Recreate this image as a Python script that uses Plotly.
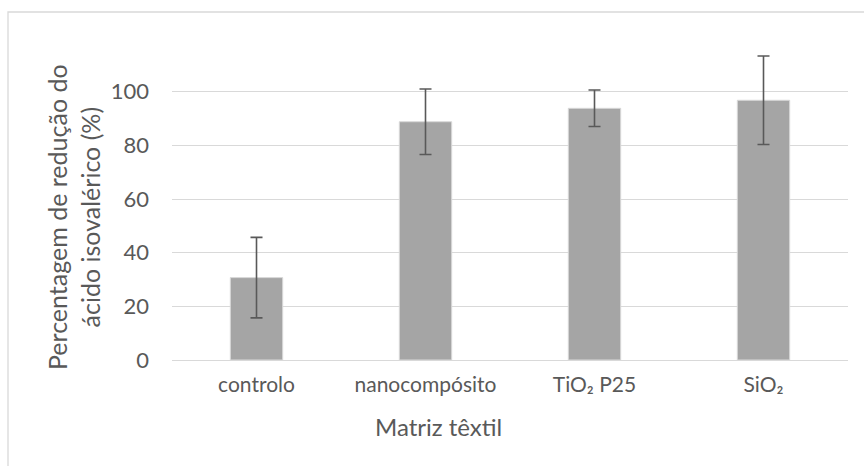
import plotly.graph_objects as go

categories = ["controlo", "nanocompósito", "TiO₂ P25", "SiO₂"]
values = [30.7, 88.8, 93.8, 96.8]
errors = [15.0, 12.2, 6.8, 16.5]
y_ticks = [0, 20, 40, 60, 80, 100]

W, H = 864, 466
L, R, T, B = 172, 16, 38, 106
pw, ph = W - L - R, H - T - B

def px_x(x):
    return (x - L) / pw

def px_y(y):
    return (H - B - y) / ph

FONT = "Lato"
GREY = "#595959"

fig = go.Figure(go.Bar(
    x=categories, y=values,
    marker=dict(color="#a5a5a5", line=dict(color="#d9d9d9", width=1)),
    error_y=dict(type="data", array=errors, visible=True, color="#595959",
                 thickness=1.6, width=6),
))

fig.update_layout(
    width=W, height=H,
    margin=dict(l=L, r=R, t=T, b=B, pad=0),
    paper_bgcolor="white", plot_bgcolor="white",
    bargap=0.69,
    showlegend=False,
    font=dict(family=FONT, color=GREY, size=21),
    xaxis=dict(showline=False, ticks="", showgrid=False, ticklabelstandoff=10,
               tickfont=dict(size=21, color=GREY, family=FONT)),
    yaxis=dict(range=[0, 120], tickvals=y_ticks, showgrid=True,
               gridcolor="#d9d9d9", gridwidth=1.3, zeroline=True,
               zerolinecolor="#d9d9d9", zerolinewidth=1.3,
               showline=False, ticks="", ticklabelstandoff=22,
               tickfont=dict(size=22, color=GREY, family=FONT)),
    shapes=[dict(type="rect", xref="paper", yref="paper",
                 x0=px_x(8), x1=px_x(880), y0=px_y(480), y1=px_y(12),
                 line=dict(color="#d9d9d9", width=1.3), layer="below")],
    annotations=[
        dict(text="Matriz têxtil", xref="paper", yref="paper",
             x=px_x(438), y=px_y(426), showarrow=False,
             xanchor="center", yanchor="middle",
             font=dict(size=24, color=GREY, family=FONT)),
        dict(text="Percentagem de redução do<br>ácido isovalérico (%)",
             xref="paper", yref="paper", textangle=-90,
             x=px_x(73), y=px_y(217), showarrow=False,
             xanchor="center", yanchor="middle",
             font=dict(size=25, color=GREY, family=FONT)),
    ],
)

fig.write_html("out.html")
